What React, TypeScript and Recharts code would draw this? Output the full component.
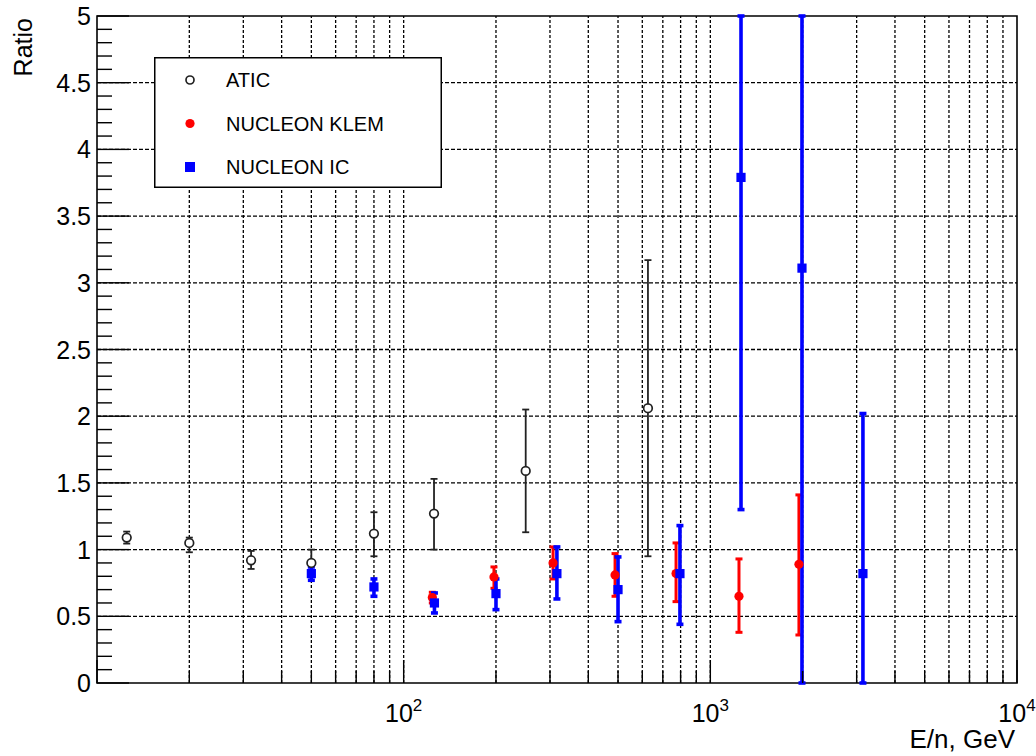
import React from 'react';
import {
  ScatterChart,
  Scatter,
  XAxis,
  YAxis,
  ErrorBar,
  ReferenceLine,
  ReferenceArea,
  Legend,
} from 'recharts';

const FONT = '"Liberation Sans", Arial, Helvetica, sans-serif';

// ---------------- data ----------------
const aticEnergy = [12.5, 20, 31.8, 50, 80, 125.6, 250, 626];
const aticRatio = [1.09, 1.05, 0.92, 0.9, 1.12, 1.27, 1.59, 2.06];
const aticErrLow = [0.045, 0.07, 0.065, 0.08, 0.17, 0.27, 0.46, 1.11];
const aticErrHigh = [0.045, 0.04, 0.07, 0.1, 0.16, 0.26, 0.46, 1.11];

const klemEnergy = [124, 197, 307, 489, 773, 1240, 1945];
const klemRatio = [0.64, 0.795, 0.9, 0.81, 0.82, 0.65, 0.89];
const klemErrLow = [0.04, 0.085, 0.12, 0.16, 0.21, 0.27, 0.53];
const klemErrHigh = [0.04, 0.075, 0.12, 0.16, 0.23, 0.28, 0.52];

const icEnergy = [50, 80, 126, 200, 316, 500, 796, 1259, 1990, 3145];
const icRatio = [0.82, 0.72, 0.6, 0.67, 0.82, 0.7, 0.82, 3.79, 3.11, 0.82];
const icErrLow = [0.05, 0.07, 0.075, 0.12, 0.19, 0.24, 0.38, 2.49, 3.11, 0.82];
const icErrHigh = [0.05, 0.06, 0.075, 0.11, 0.2, 0.245, 0.36, 1.21, 1.89, 1.2];

// ---------------- axes ----------------
const xTicks = [
  10, 20, 30, 40, 50, 60, 70, 80, 90,
  100, 200, 300, 400, 500, 600, 700, 800, 900,
  1000, 2000, 3000, 4000, 5000, 6000, 7000, 8000, 9000,
  10000,
];
const xTickLabels = [
  { value: 100, base: '10', exp: '2' },
  { value: 1000, base: '10', exp: '3' },
  { value: 10000, base: '10', exp: '4' },
];
const xGridValues = xTicks.filter((v) => v > 10 && v < 10000);

const yTicks = Array.from({ length: 51 }, (_, i) => i / 10);
const yTickLabels = [
  { value: 0, text: '0' },
  { value: 0.5, text: '0.5' },
  { value: 1, text: '1' },
  { value: 1.5, text: '1.5' },
  { value: 2, text: '2' },
  { value: 2.5, text: '2.5' },
  { value: 3, text: '3' },
  { value: 3.5, text: '3.5' },
  { value: 4, text: '4' },
  { value: 4.5, text: '4.5' },
  { value: 5, text: '5' },
];
const yGridValues = [0.5, 1, 1.5, 2, 2.5, 3, 3.5, 4, 4.5];

const xTitle = 'E/n, GeV';
const yTitle = 'Ratio';

const legendItems = [
  { name: 'ATIC', kind: 'open' },
  { name: 'NUCLEON KLEM', kind: 'red' },
  { name: 'NUCLEON IC', kind: 'blue' },
];

const toPoints = (xs: number[], ys: number[], lo: number[], hi: number[]) =>
  xs.map((x, i) => ({ x, y: ys[i], err: [lo[i], hi[i]] }));

const aticData = toPoints(aticEnergy, aticRatio, aticErrLow, aticErrHigh);
const klemData = toPoints(klemEnergy, klemRatio, klemErrLow, klemErrHigh);
const icData = toPoints(icEnergy, icRatio, icErrLow, icErrHigh);

const RED = '#ff0000';
const BLUE = '#0000ff';

// ---------------- shapes ----------------
const AticShape = (p: any) => (
  <circle cx={p.cx} cy={p.cy} r={4.3} fill="#fff" stroke="#222" strokeWidth={1.7} />
);
const KlemShape = (p: any) => <circle cx={p.cx} cy={p.cy} r={4.6} fill={RED} />;
const IcShape = (p: any) => (
  <rect x={p.cx - 4.6} y={p.cy - 4.6} width={9.2} height={9.2} fill={BLUE} />
);

const XTick = (props: any) => {
  const { x, y, payload } = props;
  const v = payload.value;
  const lg = Math.log10(v);
  const major = Math.abs(lg - Math.round(lg)) < 1e-6;
  const lab = xTickLabels.find((l) => l.value === v);
  return (
    <g>
      <line x1={x} x2={x} y1={y} y2={y - (major ? 23 : 12)} stroke="#000" strokeWidth={1.4} />
      {lab && (
        <text x={x} y={y + 39} textAnchor="middle" fontSize={25} fontFamily={FONT} fill="#000">
          <tspan>{lab.base}</tspan>
          <tspan dy={-11} fontSize={17}>
            {lab.exp}
          </tspan>
        </text>
      )}
    </g>
  );
};

const YTick = (props: any) => {
  const { x, y, payload } = props;
  const v = payload.value;
  const lab = yTickLabels.find((l) => Math.abs(l.value - v) < 1e-6);
  return (
    <g>
      <line x1={x} x2={x + (lab ? 32 : 15)} y1={y} y2={y} stroke="#000" strokeWidth={1.4} />
      {lab && (
        <text x={x - 6} y={y} dy="0.36em" textAnchor="end" fontSize={25} fontFamily={FONT} fill="#000">
          {lab.text}
        </text>
      )}
    </g>
  );
};

const XTitle = (props: any) => {
  const vb = props.viewBox || { x: 97, y: 683, width: 920, height: 73 };
  return (
    <text x={vb.x + vb.width - 2} y={vb.y + 65} textAnchor="end" fontSize={26} fontFamily={FONT} fill="#000">
      {xTitle}
    </text>
  );
};

const YTitle = (props: any) => {
  const vb = props.viewBox || { x: 0, y: 16, width: 97, height: 667 };
  const tx = vb.x + 32;
  const ty = vb.y + 2;
  return (
    <text
      x={tx}
      y={ty}
      textAnchor="end"
      fontSize={25}
      fontFamily={FONT}
      fill="#000"
      transform={`rotate(-90 ${tx} ${ty})`}
    >
      {yTitle}
    </text>
  );
};

const LegendBox = () => (
  <svg width={288} height={131} style={{ display: 'block' }}>
    <rect x={0.75} y={0.75} width={286.5} height={129.5} fill="#fff" stroke="#000" strokeWidth={1.5} />
    {legendItems.map((it, i) => {
      const cy = 23 + i * 43.5;
      const cx = 36;
      let marker;
      if (it.kind === 'open')
        marker = <circle cx={cx} cy={cy} r={4} fill="#fff" stroke="#222" strokeWidth={1.7} />;
      else if (it.kind === 'red') marker = <circle cx={cx} cy={cy} r={4.6} fill={RED} />;
      else marker = <rect x={cx - 5} y={cy - 5} width={10} height={10} fill={BLUE} />;
      return (
        <g key={it.name}>
          {marker}
          <text x={72} y={cy + 7} fontSize={20} fontFamily={FONT} fill="#000">
            {it.name}
          </text>
        </g>
      );
    })}
  </svg>
);

export default function App() {
  return (
    <div style={{ position: 'absolute', left: 0, top: 0, width: 1036, height: 756, background: '#fff' }}>
      <ScatterChart width={1036} height={756} margin={{ top: 16, right: 19, bottom: 0, left: 0 }}>
        <XAxis
          dataKey="x"
          type="number"
          scale="log"
          domain={[10, 10000]}
          allowDataOverflow
          ticks={xTicks}
          interval={0}
          tick={<XTick />}
          tickLine={false}
          tickSize={0}
          tickMargin={0}
          axisLine={false}
          height={73}
          label={XTitle}
        />
        <YAxis
          dataKey="y"
          type="number"
          domain={[0, 5]}
          allowDataOverflow
          ticks={yTicks}
          interval={0}
          tick={<YTick />}
          tickLine={false}
          tickSize={0}
          tickMargin={0}
          axisLine={false}
          width={97}
          label={YTitle}
        />
        {xGridValues.map((v) => (
          <ReferenceLine key={'gx' + v} x={v} stroke="#000" strokeWidth={1.3} strokeDasharray="3 2" />
        ))}
        {yGridValues.map((v) => (
          <ReferenceLine key={'gy' + v} y={v} stroke="#000" strokeWidth={1.3} strokeDasharray="4 2" />
        ))}
        <ReferenceArea x1={10} x2={10000} y1={0} y2={5} fill="none" fillOpacity={0} stroke="#000" strokeWidth={1.6} />
        <Scatter name="ATIC" data={aticData} shape={AticShape} isAnimationActive={false}>
          <ErrorBar dataKey="err" direction="y" width={3.5} stroke="#222" strokeWidth={1.8} isAnimationActive={false} />
        </Scatter>
        <Scatter name="NUCLEON KLEM" data={klemData} shape={KlemShape} isAnimationActive={false}>
          <ErrorBar dataKey="err" direction="y" width={3.5} stroke={RED} strokeWidth={3} isAnimationActive={false} />
        </Scatter>
        <Scatter name="NUCLEON IC" data={icData} shape={IcShape} isAnimationActive={false}>
          <ErrorBar dataKey="err" direction="y" width={3.5} stroke={BLUE} strokeWidth={3.6} isAnimationActive={false} />
        </Scatter>
        <Legend
          layout="vertical"
          align="center"
          verticalAlign="middle"
          wrapperStyle={{ position: 'absolute', left: 154, top: 57, width: 288, height: 131, margin: 0, padding: 0 }}
          content={() => <LegendBox />}
        />
      </ScatterChart>
    </div>
  );
}
